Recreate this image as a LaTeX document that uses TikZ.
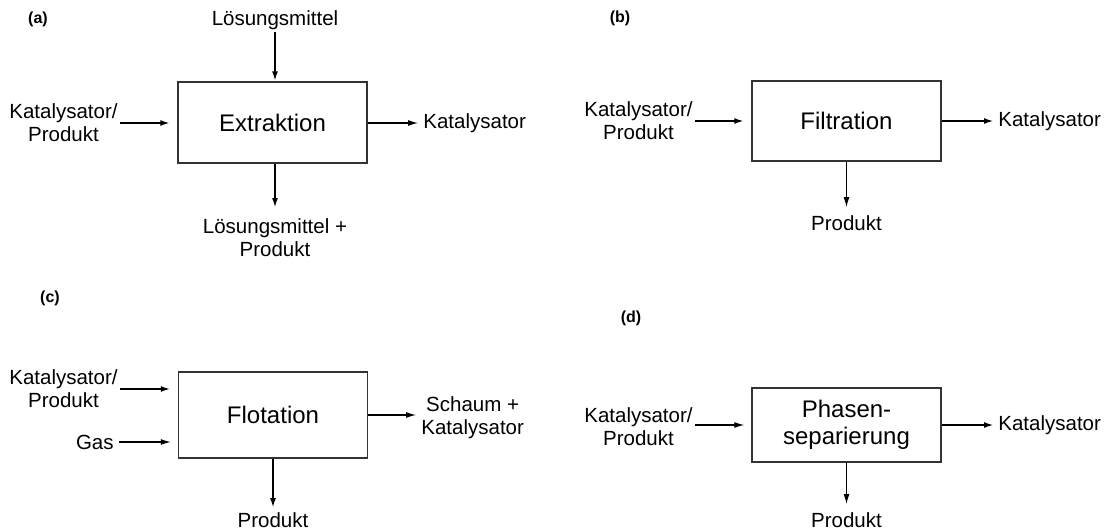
\documentclass[tikz,border=0pt]{standalone}
\usepackage{fontspec}
\setmainfont{Liberation Sans}
\usetikzlibrary{arrows.meta}

\begin{document}
\begin{tikzpicture}[
    x=0.5pt,
    y=-0.5pt,
    every node/.style={inner sep=1pt},
    txt/.style={font=\fontsize{10.25}{11.5}\selectfont,align=center},
    proc/.style={draw=black!80,line width=0.75pt,minimum width=94.5pt,
        font=\fontsize{12}{13.5}\selectfont,align=center},
    tag/.style={font=\fontsize{8}{9}\selectfont\bfseries},
    thk/.style={-{Latex[length=5pt,width=3pt]},line width=1.1pt},
    thn/.style={-{Latex[length=5pt,width=3pt]},line width=0.55pt},
]
    \useasboundingbox (0,0) rectangle (1104,530);
    % (a)
    \node[tag] (ta) at (38,19) {(a)};
    \node[proc,minimum height=40.5pt] (ex) at (272.5,122.5) {Extraktion};
    \node[txt,anchor=south] (lm) at (275,32) {Lösungsmittel};
    \node[txt,anchor=east] (kpA) at (120,123) {Katalysator/\\Produkt};
    \node[txt,anchor=west] (kA) at (421,123) {Katalysator};
    \node[txt,anchor=north] (lpA) at (275,216) {Lösungsmittel +\\Produkt};
    \draw[thk] (lm.south) -- (lm.south |- ex.north);
    \draw[thk,shorten >=3.5pt] (kpA.east) -- (kpA.east -| ex.west);
    \draw[thn,shorten >=1.5pt] (ex.east |- kA.west) -- (kA.west);
    \draw[thk,shorten >=4pt] (ex.south -| lpA.north) -- (lpA.north);
    % (b)
    \node[tag] (tb) at (620,18) {(b)};
    \node[proc,minimum height=40pt] (fi) at (846.5,121) {Filtration};
    \node[txt,anchor=east] (kpB) at (695,121) {Katalysator/\\Produkt};
    \node[txt,anchor=west] (kB) at (996,121) {Katalysator};
    \node[txt,anchor=north] (pB) at (846.5,213) {Produkt};
    \draw[thk,shorten >=3.5pt] (kpB.east) -- (kpB.east -| fi.west);
    \draw[thk,shorten >=1pt] (fi.east) -- (kB.west);
    \draw[thn,shorten >=3pt] (fi.south) -- (pB.north);
    % (c)
    \node[tag] (tc) at (50,298) {(c)};
    \node[proc,minimum height=43pt] (fl) at (273,415) {Flotation};
    \node[txt,anchor=east] (kpC) at (120,389) {Katalysator/\\Produkt};
    \node[txt,anchor=east] (gas) at (116,442) {Gas};
    \node[txt,anchor=west] (sk) at (419,418) {Schaum +\\Katalysator};
    \node[txt,anchor=north] (pC) at (273,510) {Produkt};
    \draw[thk,shorten >=3.5pt] (kpC.east) -- (kpC.east -| fl.west);
    \draw[thn,shorten <=1.5pt,shorten >=3.5pt] (gas.east) -- (gas.east -| fl.west);
    \draw[thn,shorten >=1.5pt] (fl.east) -- (fl.east -| sk.west);
    \draw[thk,shorten >=1pt] (fl.south) -- (pC.north);
    % (d)
    \node[tag] (td) at (631,318) {(d)};
    \node[proc,minimum height=37pt] (ph) at (846.5,425) {Phasen-\\separierung};
    \node[txt,anchor=east] (kpD) at (695,427) {Katalysator/\\Produkt};
    \node[txt,anchor=west] (kD) at (996,425) {Katalysator};
    \node[txt,anchor=north] (pD) at (846.5,510) {Produkt};
    \draw[thn,shorten >=3.5pt] (kpD.east |- ph.west) -- (ph.west);
    \draw[thk,shorten >=1pt] (ph.east) -- (kD.west);
    \draw[thn,shorten >=3pt] (ph.south) -- (pD.north);
\end{tikzpicture}
\end{document}
